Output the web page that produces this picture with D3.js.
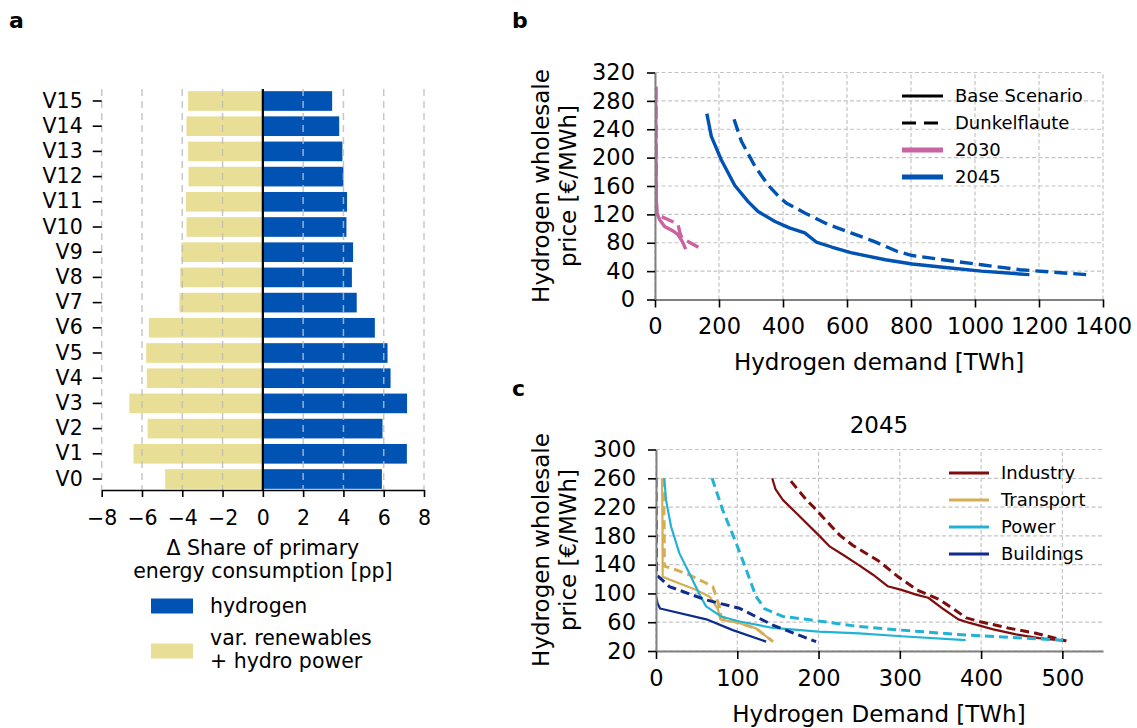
<!DOCTYPE html>
<html>
<head>
<meta charset="utf-8">
<script src="https://cdn.jsdelivr.net/npm/d3@7"></script>
<style>
  body { margin: 0; background: #fff; }
  svg { font-family: "DejaVu Sans", sans-serif; }
</style>
</head>
<body>
<svg id="fig" width="1137" height="728"></svg>
<script>
"use strict";
// panel a: change of primary energy shares per variant
var versions = ["V0", "V1", "V2", "V3", "V4", "V5", "V6", "V7", "V8", "V9", "V10", "V11", "V12", "V13", "V14", "V15"];
var hydrogenShare = [5.91, 7.15, 5.94, 7.16, 6.34, 6.19, 5.56, 4.66, 4.42, 4.48, 4.15, 4.18, 4.0, 3.95, 3.79, 3.44];
var renewableShare = [-4.85, -6.42, -5.72, -6.63, -5.76, -5.79, -5.66, -4.14, -4.10, -4.04, -3.79, -3.82, -3.69, -3.71, -3.79, -3.71];
var shareTicks = [-8, -6, -4, -2, 0, 2, 4, 6, 8];

// panel b: [demand TWh, price EUR/MWh]
var h2030Base = [[2, 300], [3, 200], [4, 140], [6, 122], [15, 112], [30, 103], [55, 97], [72, 91.5], [85, 82], [96, 71]];
var h2030Dunkel = [[3, 300], [4, 140], [6, 120], [30, 115], [54, 110], [72, 105.6], [78, 94], [84, 87], [110, 80], [138, 73]];
var h2045Base = [[162, 262], [176, 230], [207, 197], [249, 161], [291, 138], [322, 124], [375, 110], [420, 101], [468, 94],
  [504, 81], [552, 74], [612, 66], [720, 56], [804, 50], [900, 45.5], [1020, 40], [1170, 35]];
var h2045Dunkel = [[247, 254], [270, 223], [312, 188], [354, 161], [385, 146], [410, 136], [468, 122], [540, 106], [612, 94],
  [684, 82], [756, 68], [804, 62], [900, 56], [1020, 49], [1140, 42], [1350, 35]];
var demandTicksB = [0, 200, 400, 600, 800, 1000, 1200, 1400];
var priceTicksB = [0, 40, 80, 120, 160, 200, 240, 280, 320];

// panel c: sector demand curves 2045
var industryBase = [[143, 260], [147, 245], [156, 230], [176, 208], [201, 180], [214, 165], [231, 153], [250, 139], [267, 126],
  [285, 110], [302, 105], [321, 98], [335, 94], [354, 78], [372, 64], [386, 59], [415, 50], [443, 43], [471, 38], [504, 34]];
var industryDunkel = [[166, 256], [185, 230], [193, 221], [226, 181], [242, 167], [274, 145], [297, 124], [321, 105], [349, 91.5],
  [382, 66], [396, 61.5], [433, 52], [466, 45], [505, 34]];
var transportBase = [[7.4, 260], [8, 200], [8.2, 123], [33, 112], [49, 105], [66, 95.5], [76, 79], [79, 64], [103, 58.5], [123, 51.5], [144, 33]];
var transportDunkel = [[9, 260], [10, 200], [10.3, 138], [25, 132.6], [41, 125.7], [66, 112], [70, 109.5], [78, 81.6], [80, 67.7],
  [103, 58.5], [123, 51.5], [144, 33]];
var powerBase = [[10.3, 260], [12.3, 230], [18.5, 193], [28.7, 156], [41, 128], [53, 100], [61.6, 82], [80, 68], [103, 61],
  [144, 52], [200, 47], [250, 44.5], [302, 40.5], [381, 35]];
var powerDunkel = [[69, 260], [82, 216], [98.6, 170], [111, 133], [123, 96], [133.5, 79], [156, 68], [185, 64], [250, 54],
  [302, 49], [372, 43], [443, 38.5], [501, 35]];
var buildingsBase = [[0, 96], [2, 86], [5, 79], [62, 64], [94.5, 49], [135.5, 33]];
var buildingsDunkel = [[0, 260], [0.5, 140], [0.8, 125.7], [16.4, 109.5], [61.6, 91], [102.7, 79.3], [143.7, 56], [197, 33]];
var demandTicksC = [0, 100, 200, 300, 400, 500];
var priceTicksC = [20, 60, 100, 140, 180, 220, 260, 300];

var blue = "#0053b3", sand = "#e9de95", pink = "#c864a0";
var sectorColors = { Industry: "#7e0d0d", Transport: "#d5ad55", Power: "#22b2d5", Buildings: "#0f2b8c" };

var svg = d3.select("#fig");

function panelLabel(t, x, y) {
  svg.append("text").attr("x", x).attr("y", y).attr("font-size", 22).attr("font-weight", "bold").text(t);
}
panelLabel("a", 9, 28);
panelLabel("b", 512, 28);
panelLabel("c", 512, 396);

// ---------- panel a ----------
var ax = d3.scaleLinear().domain([-8, 8]).range([101.7, 424]);
var ay = d3.scaleBand().domain(versions.slice().reverse()).range([88.4, 491.6]).paddingInner(0.22).paddingOuter(0.11);
var ga = svg.append("g");

ga.selectAll(".ren").data(versions).join("rect")
  .attr("x", function(d, i) { return ax(renewableShare[i]); })
  .attr("width", function(d, i) { return ax(0) - ax(renewableShare[i]); })
  .attr("y", function(d) { return ay(d); })
  .attr("height", ay.bandwidth())
  .attr("fill", sand);

ga.selectAll(".hyd").data(versions).join("rect")
  .attr("x", ax(0))
  .attr("width", function(d, i) { return ax(hydrogenShare[i]) - ax(0); })
  .attr("y", function(d) { return ay(d); })
  .attr("height", ay.bandwidth())
  .attr("fill", blue);

//grid sits above the bars
ga.selectAll(".grid").data(shareTicks).join("line")
  .attr("x1", ax).attr("x2", ax).attr("y1", 89).attr("y2", 490)
  .attr("stroke", "#bdbdbd").attr("stroke-opacity", 0.85)
  .attr("stroke-width", 1.5).attr("stroke-dasharray", "7,5");

ga.append("line").attr("x1", ax(0)).attr("x2", ax(0)).attr("y1", 89).attr("y2", 490)
  .attr("stroke", "#000").attr("stroke-width", 2.2);

var axA = ga.append("g").attr("transform", "translate(0,490)")
  .call(d3.axisBottom(ax).tickValues(shareTicks).tickSize(7).tickPadding(13).tickSizeOuter(0));
var ayA = ga.append("g").attr("transform", "translate(101.7,0)")
  .call(d3.axisLeft(ay).tickSize(9).tickPadding(10));
ayA.select(".domain").remove();

[axA, ayA].forEach(function(g) {
  g.selectAll("text").attr("font-size", 20.5).attr("fill", "#000").attr("font-family", "DejaVu Sans");
  g.selectAll("line, path").attr("stroke", "#000").attr("stroke-width", 1.6);
});

ga.append("text").attr("x", ax(0)).attr("y", 555).attr("text-anchor", "middle").attr("font-size", 20.5)
  .text("\u0394 Share of primary");
ga.append("text").attr("x", ax(0)).attr("y", 578).attr("text-anchor", "middle").attr("font-size", 20.5)
  .text("energy consumption [pp]");

var legA = [
  { color: blue, lines: ["hydrogen"], y: 598.5 },
  { color: sand, lines: ["var. renewables", "+ hydro power"], y: 643.5 }
];
legA.forEach(function(l) {
  ga.append("rect").attr("x", 151).attr("y", l.y).attr("width", 42).attr("height", 15).attr("fill", l.color);
  var base = l.lines.length == 1 ? l.y + 14 : l.y + 1;
  l.lines.forEach(function(s, i) {
    ga.append("text").attr("x", 210).attr("y", base + i * 23.5).attr("font-size", 20.5).text(s);
  });
});

// ---------- shared helpers for b and c ----------
function styleAxis(g) {
  g.selectAll("text").attr("font-size", 22.5).attr("fill", "#000").attr("font-family", "DejaVu Sans");
  g.selectAll(".tick line").attr("stroke", "#000").attr("stroke-width", 1.6);
  g.select(".domain").attr("stroke", "#808080").attr("stroke-width", 2);
}

function drawGrid(g, x, y, xt, yt) {
  var r = x.range(), q = y.range();
  g.selectAll(".gx").data(xt).join("line")
    .attr("x1", x).attr("x2", x).attr("y1", q[0]).attr("y2", q[1])
    .attr("stroke", "#c4c4c4").attr("stroke-width", 1.2).attr("stroke-dasharray", "4,2.5");
  g.selectAll(".gy").data(yt).join("line")
    .attr("y1", y).attr("y2", y).attr("x1", r[0]).attr("x2", r[1])
    .attr("stroke", "#c4c4c4").attr("stroke-width", 1.2).attr("stroke-dasharray", "4,2.5");
}

function yLabel(g, cx, cy) {
  g.append("text").attr("transform", "translate(" + (cx - 13.5) + "," + cy + ") rotate(-90)")
    .attr("text-anchor", "middle").attr("dy", "0.35em").attr("font-size", 23).text("Hydrogen wholesale");
  g.append("text").attr("transform", "translate(" + (cx + 13.5) + "," + cy + ") rotate(-90)")
    .attr("text-anchor", "middle").attr("dy", "0.35em").attr("font-size", 23).text("price [\u20ac/MWh]");
}

// ---------- panel b ----------
var bx = d3.scaleLinear().domain([0, 1400]).range([655, 1103]);
var by = d3.scaleLinear().domain([0, 320]).range([299.5, 72.5]);
var gb = svg.append("g");
drawGrid(gb, bx, by, demandTicksB, priceTicksB);

svg.append("clipPath").attr("id", "clipB").append("rect")
  .attr("x", 655).attr("y", 72.5).attr("width", 448).attr("height", 227);

var lineB = d3.line().x(function(d) { return bx(d[0]); }).y(function(d) { return by(d[1]); });
var seriesB = [
  { data: h2030Base, color: pink, dash: null },
  { data: h2030Dunkel, color: pink, dash: "13,6" },
  { data: h2045Base, color: blue, dash: null },
  { data: h2045Dunkel, color: blue, dash: "13,6" }
];
gb.append("g").attr("clip-path", "url(#clipB)").selectAll("path").data(seriesB).join("path")
  .attr("d", function(d) { return lineB(d.data); })
  .attr("fill", "none").attr("stroke", function(d) { return d.color; })
  .attr("stroke-width", 3.4).attr("stroke-dasharray", function(d) { return d.dash; })
  .attr("stroke-linejoin", "round");

var bxA = gb.append("g").attr("transform", "translate(0,299.5)")
  .call(d3.axisBottom(bx).tickValues(demandTicksB).tickFormat(d3.format("d")).tickSize(8).tickPadding(11).tickSizeOuter(0));
var byA = gb.append("g").attr("transform", "translate(655,0)")
  .call(d3.axisLeft(by).tickValues(priceTicksB).tickFormat(d3.format("d")).tickSize(8).tickPadding(12).tickSizeOuter(0));
styleAxis(bxA);
styleAxis(byA);

gb.append("text").attr("x", 879).attr("y", 370).attr("text-anchor", "middle").attr("font-size", 23)
  .text("Hydrogen demand [TWh]");
yLabel(gb, 554.5, 186);

var legB = [
  { label: "Base Scenario", color: "#000", dash: null, w: 3 },
  { label: "Dunkelflaute", color: "#000", dash: "14,8", w: 3 },
  { label: "2030", color: pink, dash: null, w: 5 },
  { label: "2045", color: blue, dash: null, w: 5 }
];
legB.forEach(function(l, i) {
  var y = 96 + i * 27;
  gb.append("line").attr("x1", 902).attr("x2", 943).attr("y1", y).attr("y2", y)
    .attr("stroke", l.color).attr("stroke-width", l.w).attr("stroke-dasharray", l.dash);
  gb.append("text").attr("x", 955).attr("y", y).attr("dy", "0.35em").attr("font-size", 18).text(l.label);
});

// ---------- panel c ----------
var cx = d3.scaleLinear().domain([0, 550]).range([656, 1103]);
var cy = d3.scaleLinear().domain([20, 300]).range([651, 449.5]);
var gc = svg.append("g");
drawGrid(gc, cx, cy, demandTicksC, priceTicksC);

svg.append("clipPath").attr("id", "clipC").append("rect")
  .attr("x", 656).attr("y", 449.5).attr("width", 447).attr("height", 201.5);

var lineC = d3.line().x(function(d) { return cx(d[0]); }).y(function(d) { return cy(d[1]); });
var seriesC = [
  { data: industryBase, sector: "Industry", dash: false },
  { data: industryDunkel, sector: "Industry", dash: true },
  { data: transportBase, sector: "Transport", dash: false },
  { data: transportDunkel, sector: "Transport", dash: true },
  { data: powerBase, sector: "Power", dash: false },
  { data: powerDunkel, sector: "Power", dash: true },
  { data: buildingsBase, sector: "Buildings", dash: false },
  { data: buildingsDunkel, sector: "Buildings", dash: true }
];
gc.append("g").attr("clip-path", "url(#clipC)").selectAll("path").data(seriesC).join("path")
  .attr("d", function(d) { return lineC(d.data); })
  .attr("fill", "none").attr("stroke", function(d) { return sectorColors[d.sector]; })
  .attr("stroke-width", function(d) { return d.dash ? 3 : 2.2; })
  .attr("stroke-dasharray", function(d) { return d.dash ? "9,5" : null; })
  .attr("stroke-linejoin", "round");

var cxA = gc.append("g").attr("transform", "translate(0,651)")
  .call(d3.axisBottom(cx).tickValues(demandTicksC).tickFormat(d3.format("d")).tickSize(8).tickPadding(11.5).tickSizeOuter(0));
var cyA = gc.append("g").attr("transform", "translate(656,0)")
  .call(d3.axisLeft(cy).tickValues(priceTicksC).tickFormat(d3.format("d")).tickSize(8).tickPadding(12).tickSizeOuter(0));
styleAxis(cxA);
styleAxis(cyA);

gc.append("text").attr("x", 879).attr("y", 433).attr("text-anchor", "middle").attr("font-size", 23).text("2045");
gc.append("text").attr("x", 879).attr("y", 721.5).attr("text-anchor", "middle").attr("font-size", 23)
  .text("Hydrogen Demand [TWh]");
yLabel(gc, 554.5, 550);

Object.keys(sectorColors).forEach(function(s, i) {
  var y = 473 + i * 27;
  gc.append("line").attr("x1", 949).attr("x2", 989).attr("y1", y).attr("y2", y)
    .attr("stroke", sectorColors[s]).attr("stroke-width", 3);
  gc.append("text").attr("x", 1001).attr("y", y).attr("dy", "0.35em").attr("font-size", 18).text(s);
});
</script>
</body>
</html>
